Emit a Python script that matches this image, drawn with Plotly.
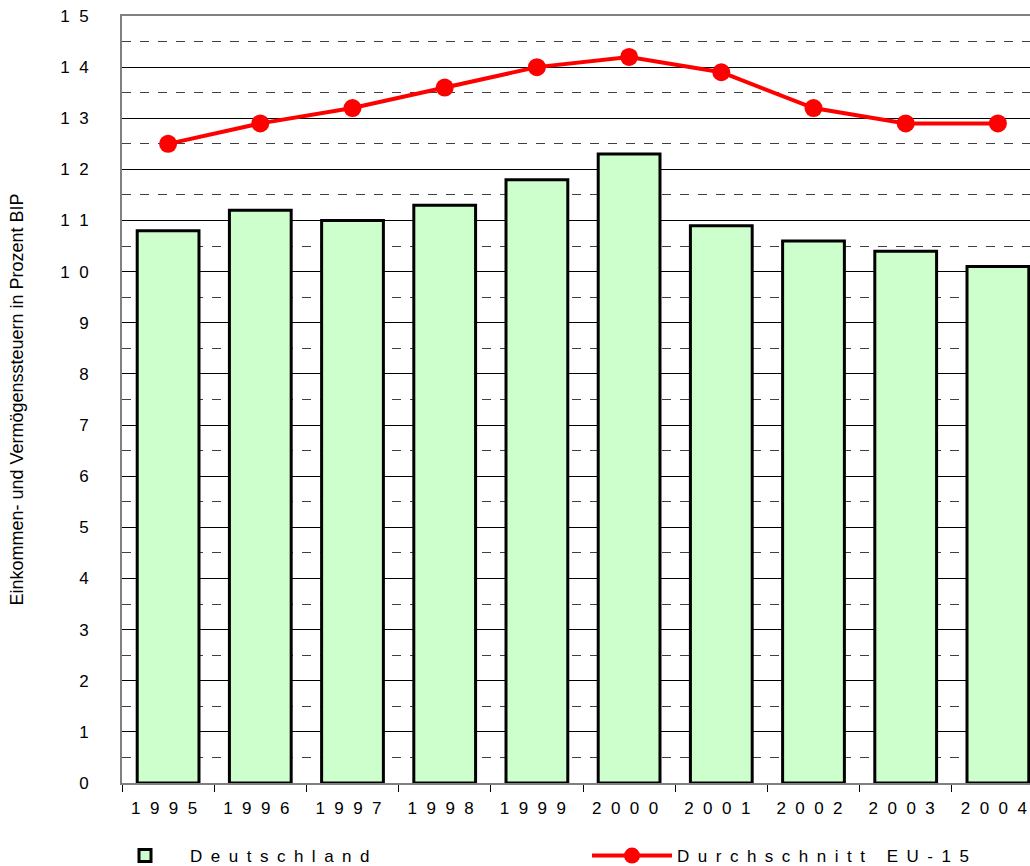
import plotly.graph_objects as go

years = ["1995", "1996", "1997", "1998", "1999", "2000", "2001", "2002", "2003", "2004"]
deutschland = [10.8, 11.2, 11.0, 11.3, 11.8, 12.3, 10.9, 10.6, 10.4, 10.1]
eu15 = [12.5, 12.9, 13.2, 13.6, 14.0, 14.2, 13.9, 13.2, 12.9, 12.9]
y_ticks = list(range(0, 16))
series_names = ["Deutschland", "Durchschnitt EU-15"]
y_title = "Einkommen- und Vermögenssteuern in Prozent BIP"

SP = "\u00a0\u00a0"
SP_LEG = "\u2002"


def spaced(s, sep=SP):
    return sep.join(list(s))


FONT = "Liberation Sans, Arial, sans-serif"
OFF = 0  # body margin removed via post_script
W, H = 1030 - OFF, 866 - OFF
# target page positions of the plot area
P_LEFT, P_TOP, P_BOTTOM, P_RIGHT = 122, 16, 783, 1030
ML = P_LEFT - OFF
MT = P_TOP - OFF
MB = (H + OFF) - P_BOTTOM
PW = P_RIGHT - P_LEFT
PH = P_BOTTOM - P_TOP

# the original chart is cut at the right edge: show a bit less than 10 categories
CAT_W = 92.2
x_hi = -0.5 + PW / CAT_W


def px_x(p):
    return (p - P_LEFT) / PW


def px_y(p):
    return (P_BOTTOM - p) / PH


fig = go.Figure()
fig.add_trace(go.Bar(
    x=years, y=deutschland, name=spaced(series_names[0], SP_LEG),
    marker=dict(color="#CCFFCC", line=dict(color="black", width=3)),
    width=0.67, legend="legend",
))
fig.add_trace(go.Scatter(
    x=years, y=eu15, name=spaced(series_names[1], SP_LEG), mode="lines+markers",
    line=dict(color="#FF0000", width=4),
    marker=dict(color="#FF0000", size=18, symbol="circle"),
    legend="legend2",
))

legfont = dict(family=FONT, size=17, color="black")
fig.update_layout(
    width=W, height=H,
    margin=dict(l=ML, r=0, t=MT, b=MB, autoexpand=False),
    plot_bgcolor="white", paper_bgcolor="white",
    font=dict(family=FONT, size=17, color="black"),
    showlegend=True,
    legend=dict(
        orientation="h", x=px_x(100), xanchor="left", y=px_y(838), yanchor="top",
        font=legfont, itemwidth=80, bgcolor="rgba(0,0,0,0)",
    ),
    legend2=dict(
        orientation="h", x=px_x(587), xanchor="left", y=px_y(838), yanchor="top",
        font=legfont, itemwidth=80, bgcolor="rgba(0,0,0,0)",
    ),
)

fig.update_xaxes(
    type="category",
    range=[-0.5, x_hi],
    tickmode="array", tickvals=years, ticktext=[spaced(y) for y in years],
    tickson="boundaries", ticks="outside", ticklen=7, tickcolor="black",
    showline=True, linecolor="#808080", linewidth=2, mirror=True,
    showgrid=False, automargin=False,
    ticklabelstandoff=9, ticklabelshift=-4, ticklabeloverflow="allow",
    tickfont=dict(family=FONT, size=17, color="black"),
)

fig.update_yaxes(
    range=[0, 15],
    tickmode="array", tickvals=y_ticks, ticktext=[spaced(str(v)) for v in y_ticks],
    showline=True, linecolor="#808080", linewidth=2,
    showgrid=True, gridcolor="black", gridwidth=1,
    minor=dict(dtick=0.5, tick0=0, showgrid=True, gridcolor="#404040", gridwidth=1, griddash="dash"),
    zeroline=False,
    ticks="", ticklabelstandoff=28, ticklabeloverflow="allow",
    tickfont=dict(family=FONT, size=17, color="black"),
    title=dict(text=y_title, standoff=32, font=dict(family=FONT, size=18, color="black")),
    automargin=False,
)

fig.write_html(
    "out.html",
    config={"displayModeBar": False},
    post_script="document.body.style.margin='0';",
)
